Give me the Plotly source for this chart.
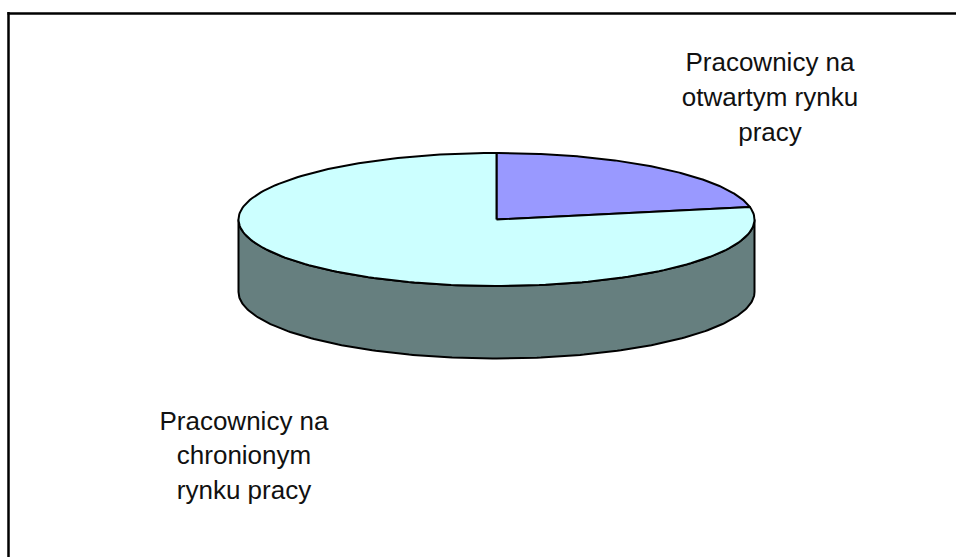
import math
import plotly.graph_objects as go

# Data
categories = ["Pracownicy na otwartym rynku pracy", "Pracownicy na chronionym rynku pracy"]
values = [22, 78]
colors_top = ["#9999FF", "#CCFFFF"]
color_wall = "#667F7F"
label_lines = [["Pracownicy na", "otwartym rynku", "pracy"],
               ["Pracownicy na", "chronionym", "rynku pracy"]]

# Layout of the pie in pixel-space axes
CX, CY, RX, RY, DEPTH = 496.5, 219.5, 258, 66.5, 72.5
W, H = 956, 557
label_pos = [(770, [64, 99, 134]), (244, [423, 457, 492])]
FS = 26


def ell(frac):
    a = 2 * math.pi * frac
    return CX + RX * math.sin(a), CY - RY * math.cos(a)


def arc(f0, f1, n=200):
    return [ell(f0 + (f1 - f0) * i / n) for i in range(n + 1)]


fig = go.Figure()

# side wall: visible front half of the cylinder
total = sum(values)
front = arc(0.25, 0.75)
wall = front + [(x, y + DEPTH) for x, y in reversed(front)]
wall.append(wall[0])
fig.add_trace(go.Scatter(x=[p[0] for p in wall], y=[p[1] for p in wall], mode="lines",
                         fill="toself", fillcolor=color_wall,
                         line=dict(color="#000000", width=2), hoverinfo="skip"))

# top slices
start = 0.0
for name, v, c in zip(categories, values, colors_top):
    f = v / total
    pts = [(CX, CY)] + arc(start, start + f) + [(CX, CY)]
    fig.add_trace(go.Scatter(x=[p[0] for p in pts], y=[p[1] for p in pts], mode="lines",
                             fill="toself", fillcolor=c, name=name,
                             line=dict(color="#000000", width=2), hoverinfo="name"))
    start += f

# labels
for (lx, ys), lines in zip(label_pos, label_lines):
    fig.add_trace(go.Scatter(x=[lx] * len(lines), y=ys, mode="text", text=lines,
                             textposition="middle center",
                             textfont=dict(family="Liberation Sans", size=FS, color="#111111"),
                             hoverinfo="skip"))

fig.update_layout(
    width=W, height=H, autosize=False, showlegend=False,
    margin=dict(l=0, r=0, t=0, b=0),
    paper_bgcolor="#FFFFFF", plot_bgcolor="#FFFFFF",
    xaxis=dict(range=[0, W], visible=False, fixedrange=True),
    yaxis=dict(range=[H, 0], visible=False, fixedrange=True),
    shapes=[
        dict(type="line", xref="x", yref="y", x0=8.5, x1=8.5, y0=12, y1=H,
             line=dict(color="#000000", width=2.5)),
        dict(type="line", xref="x", yref="y", x0=7.5, x1=W, y0=13.5, y1=13.5,
             line=dict(color="#000000", width=2.5)),
    ],
)
fig.write_html("out.html", config={"displayModeBar": False},
               post_script="document.body.style.margin='0';document.body.style.overflow='hidden';")
